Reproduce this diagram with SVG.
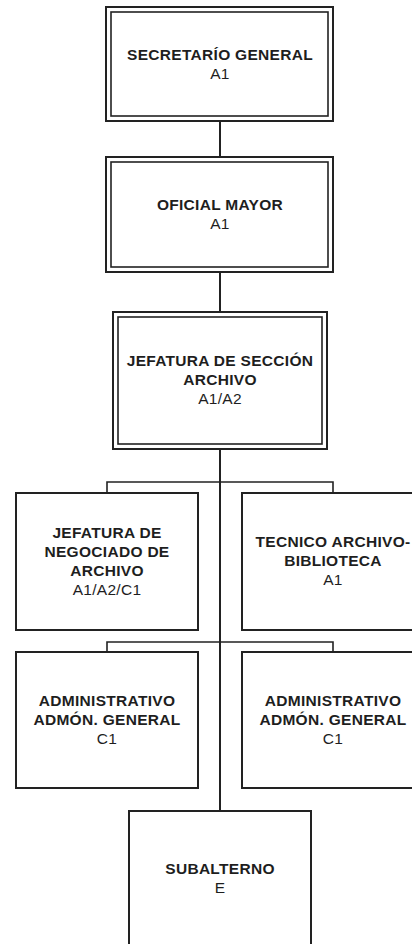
<svg xmlns="http://www.w3.org/2000/svg" width="412" height="944" viewBox="0 0 412 944">
<style>
.bg{fill:#ffffff}
.box{fill:#ffffff;stroke:#222222;stroke-width:2}
.inner{fill:none;stroke:#222222;stroke-width:1.6}
.conn{fill:none;stroke:#222222;stroke-width:2}
.branch{fill:none;stroke:#222222;stroke-width:1.6}
text{font-family:"Liberation Sans",Arial,sans-serif;font-size:15.5px;fill:#1e1e1e;text-anchor:middle;letter-spacing:0.3px}
.b{font-weight:bold}
</style>
<rect class="bg" x="0" y="0" width="412" height="944"/>
<g id="connectors">
<line class="conn" x1="220" y1="121" x2="220" y2="157"/>
<line class="conn" x1="220" y1="272" x2="220" y2="312"/>
<line class="conn" x1="220" y1="449" x2="220" y2="811"/>
<polyline class="branch" points="107,493 107,482 333,482 333,493"/>
<polyline class="branch" points="107,652 107,642 333,642 333,652"/>
</g>
<g id="secretario">
<rect class="box" x="106" y="7" width="227" height="114"/>
<rect class="inner" x="111" y="12" width="217" height="104"/>
<text class="b" x="220" y="60">SECRETARÍO GENERAL</text>
<text x="220" y="79">A1</text>
</g>
<g id="oficial">
<rect class="box" x="106" y="157" width="227" height="115"/>
<rect class="inner" x="111" y="162" width="217" height="105"/>
<text class="b" x="220" y="210">OFICIAL MAYOR</text>
<text x="220" y="229">A1</text>
</g>
<g id="jefatura-seccion">
<rect class="box" x="113" y="312" width="214" height="137"/>
<rect class="inner" x="118" y="317" width="204" height="127"/>
<text class="b" x="220" y="366">JEFATURA DE SECCIÓN</text>
<text class="b" x="220" y="385">ARCHIVO</text>
<text x="220" y="404">A1/A2</text>
</g>
<g id="jefatura-negociado">
<rect class="box" x="16" y="493" width="182" height="137"/>
<text class="b" x="107" y="538">JEFATURA DE</text>
<text class="b" x="107" y="557">NEGOCIADO DE</text>
<text class="b" x="107" y="576">ARCHIVO</text>
<text x="107" y="595">A1/A2/C1</text>
</g>
<g id="tecnico">
<rect class="box" x="242" y="493" width="182" height="137"/>
<text class="b" x="333" y="547">TECNICO ARCHIVO-</text>
<text class="b" x="333" y="566">BIBLIOTECA</text>
<text x="333" y="585">A1</text>
</g>
<g id="administrativo-1">
<rect class="box" x="16" y="652" width="182" height="136"/>
<text class="b" x="107" y="706">ADMINISTRATIVO</text>
<text class="b" x="107" y="725">ADMÓN. GENERAL</text>
<text x="107" y="744">C1</text>
</g>
<g id="administrativo-2">
<rect class="box" x="242" y="652" width="182" height="136"/>
<text class="b" x="333" y="706">ADMINISTRATIVO</text>
<text class="b" x="333" y="725">ADMÓN. GENERAL</text>
<text x="333" y="744">C1</text>
</g>
<g id="subalterno">
<rect class="box" x="129" y="811" width="182" height="140"/>
<text class="b" x="220" y="874">SUBALTERNO</text>
<text x="220" y="893">E</text>
</g>
</svg>
